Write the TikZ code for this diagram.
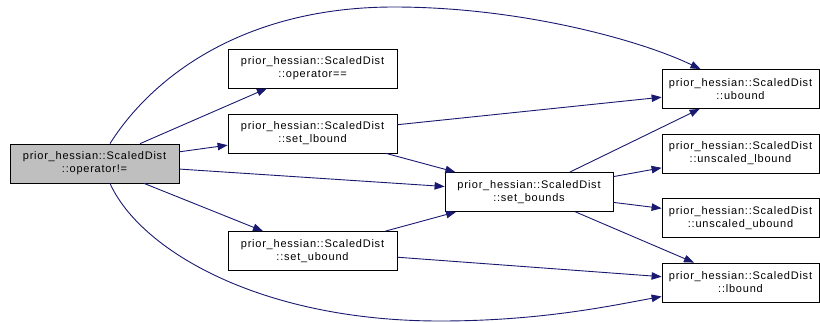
\documentclass[tikz,border=0pt]{standalone}
\usepackage{fontspec}
\setmainfont[LetterSpace=7]{Liberation Sans}
\usepackage{xcolor}
\usetikzlibrary{arrows.meta}
\definecolor{edgeblue}{HTML}{191970}

\begin{document}
\begin{tikzpicture}[x=1pt, y=-1pt,
  every node/.style={draw,fill=white,align=center,inner sep=0pt,line width=0.8pt,
    font=\fontsize{11}{13}\selectfont,minimum width=169pt,minimum height=39pt},
  leaf/.style={minimum width=157pt},
  call/.style={draw=edgeblue,line width=0.9pt,-{Triangle[length=10pt,width=7.5pt]}}]
\useasboundingbox (0,0) rectangle (820,322);
% callers on the left, callees on the right
\node[fill=gray!50] (ne) at (94.5,163.5) {prior\_hessian::ScaledDist\\::operator!=};
\node (eq) at (312.5,68.5) {prior\_hessian::ScaledDist\\::operator==};
\node (setl) at (312.5,133.5) {prior\_hessian::ScaledDist\\::set\_lbound};
\node (setu) at (312.5,251) {prior\_hessian::ScaledDist\\::set\_ubound};
\node[minimum width=168pt] (setb) at (529,192) {prior\_hessian::ScaledDist\\::set\_bounds};
\node[leaf] (ub) at (740.5,89) {prior\_hessian::ScaledDist\\::ubound};
\node[leaf] (usl) at (740.5,153.5) {prior\_hessian::ScaledDist\\::unscaled\_lbound};
\node[leaf] (usu) at (740.5,218) {prior\_hessian::ScaledDist\\::unscaled\_ubound};
\node[leaf] (lb) at (740.5,282.5) {prior\_hessian::ScaledDist\\::lbound};

\draw[call] (ne) -- (eq);
\draw[call] (ne) -- (setl);
\draw[call] (ne) -- (setb);
\draw[call] (ne) -- (setu);
\draw[call] ([xshift=15.5pt]ne.north) .. controls (150,80) and (240,7) .. (394,7)
  .. controls (520,7) and (640,40) .. ([xshift=-40pt]ub.north);
\draw[call] ([xshift=15.5pt]ne.south) .. controls (140,250) and (260,321) .. (440,321)
  .. controls (540,321) and (610,306) .. ([yshift=-14pt]lb.west);
\draw[call] (setl) -- (ub);
\draw[call] (setl) -- (setb);
\draw[call] (setu) -- (setb);
\draw[call] (setu) -- (lb);
\draw[call] (setb) -- (ub);
\draw[call] (setb) -- (usl);
\draw[call] (setb) -- (usu);
\draw[call] (setb) -- (lb);
\end{tikzpicture}
\end{document}
